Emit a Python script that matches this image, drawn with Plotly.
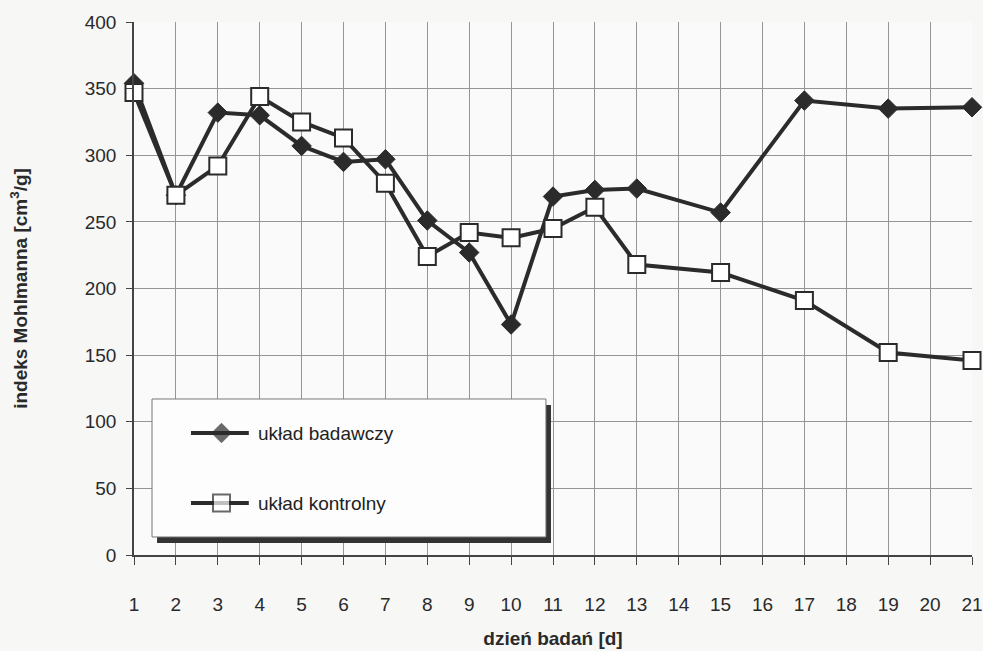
import plotly.graph_objects as go

# Days of the study and Mohlmann index values for both systems
days = [1, 2, 3, 4, 5, 6, 7, 8, 9, 10, 11, 12, 13, 15, 17, 19, 21]
badawczy = [354, 270, 332, 330, 307, 295, 297, 251, 227, 173, 269, 274, 275, 257, 341, 335, 336]
kontrolny = [347, 270, 292, 344, 325, 313, 279, 224, 242, 238, 245, 261, 218, 212, 191, 152, 146]

x_ticks = list(range(1, 22))
y_ticks = list(range(0, 401, 50))

series_names = ["układ badawczy", "układ kontrolny"]

INK = "#2b2b2b"
GRID = "#959595"
FONT = "Liberation Sans, Arial, sans-serif"

fig = go.Figure()

fig.add_trace(go.Scatter(
    x=days, y=badawczy, mode="lines+markers", name=series_names[0],
    line=dict(color=INK, width=4),
    marker=dict(symbol="diamond", size=15, color=INK, line=dict(color=INK, width=1)),
    cliponaxis=False, showlegend=False,
))
fig.add_trace(go.Scatter(
    x=days, y=kontrolny, mode="lines+markers", name=series_names[1],
    line=dict(color=INK, width=4),
    marker=dict(symbol="square", size=17, color="white", line=dict(color=INK, width=2)),
    cliponaxis=False, showlegend=False,
))

# Hand-built key box on an overlay axis pair spanning the plot area (0..1)
bx0, bx1, by0, by1 = 0.0215, 0.4916, 0.0338, 0.2927
sdx, sdy = 0.006, 0.0113


def rect(x0, x1, y0, y1):
    return [x0, x1, x1, x0, x0], [y0, y0, y1, y1, y0]


sx, sy = rect(bx0 + sdx, bx1 + sdx, by0 - sdy, by1 - sdy)
fig.add_trace(go.Scatter(
    x=sx, y=sy, xaxis="x2", yaxis="y2", mode="lines", fill="toself",
    fillcolor="#333333", line=dict(color="#333333", width=0),
    hoverinfo="skip", showlegend=False,
))
kx, ky = rect(bx0, bx1, by0, by1)
fig.add_trace(go.Scatter(
    x=kx, y=ky, xaxis="x2", yaxis="y2", mode="lines", fill="toself",
    fillcolor="#fdfdfd", line=dict(color="#777777", width=1),
    hoverinfo="skip", showlegend=False,
))

key_rows = [0.2289, 0.0975]
key_x = [0.068, 0.1044, 0.137]
key_markers = [
    dict(symbol="diamond", size=[0, 15, 0], color=INK, line=dict(color=INK, width=1)),
    dict(symbol="square", size=[0, 17, 0], color="white", line=dict(color=INK, width=2)),
]
for row_y, mk, label in zip(key_rows, key_markers, series_names):
    fig.add_trace(go.Scatter(
        x=key_x, y=[row_y] * 3, mode="lines+markers", xaxis="x2", yaxis="y2",
        line=dict(color=INK, width=4), marker=mk, showlegend=False,
        hoverinfo="skip", cliponaxis=False,
    ))
    fig.add_annotation(
        xref="x2", yref="y2", x=0.146, y=row_y, xanchor="left",
        yanchor="middle", text=label, showarrow=False,
        font=dict(family=FONT, size=19, color="#222222"),
    )

fig.update_layout(
    width=983, height=651,
    margin=dict(l=134, r=11, t=22, b=96),
    paper_bgcolor="#f7f7f6",
    plot_bgcolor="#fafafa",
    showlegend=False,
    xaxis=dict(
        range=[1, 21], tickvals=x_ticks, ticktext=[str(v) for v in x_ticks],
        showgrid=True, gridcolor=GRID, gridwidth=1,
        showline=True, linecolor="#444444", linewidth=1.5,
        ticks="outside", ticklen=8, tickcolor="#444444", tickwidth=1,
        ticklabelstandoff=23,
        tickfont=dict(family=FONT, size=19, color="#2a2a2a"),
        title=dict(text="<b>dzień badań [d]</b>", standoff=18,
                   font=dict(family=FONT, size=19, color="#2a2a2a")),
        zeroline=False, automargin=False,
    ),
    yaxis=dict(
        range=[0, 400], tickvals=y_ticks,
        showgrid=True, gridcolor=GRID, gridwidth=1,
        showline=True, linecolor="#444444", linewidth=1.5,
        ticks="outside", ticklen=6, tickcolor="#444444", tickwidth=1,
        ticklabelstandoff=6,
        tickfont=dict(family=FONT, size=19, color="#2a2a2a"),
        title=dict(text="<b>indeks Mohlmanna [cm<sup>3</sup>/g]</b>", standoff=52,
                   font=dict(family=FONT, size=19, color="#2a2a2a")),
        zeroline=False, automargin=False,
    ),
    xaxis2=dict(range=[0, 1], overlaying="x", visible=False, fixedrange=True),
    yaxis2=dict(range=[0, 1], overlaying="y", visible=False, fixedrange=True),
)

fig.write_html("out.html")
